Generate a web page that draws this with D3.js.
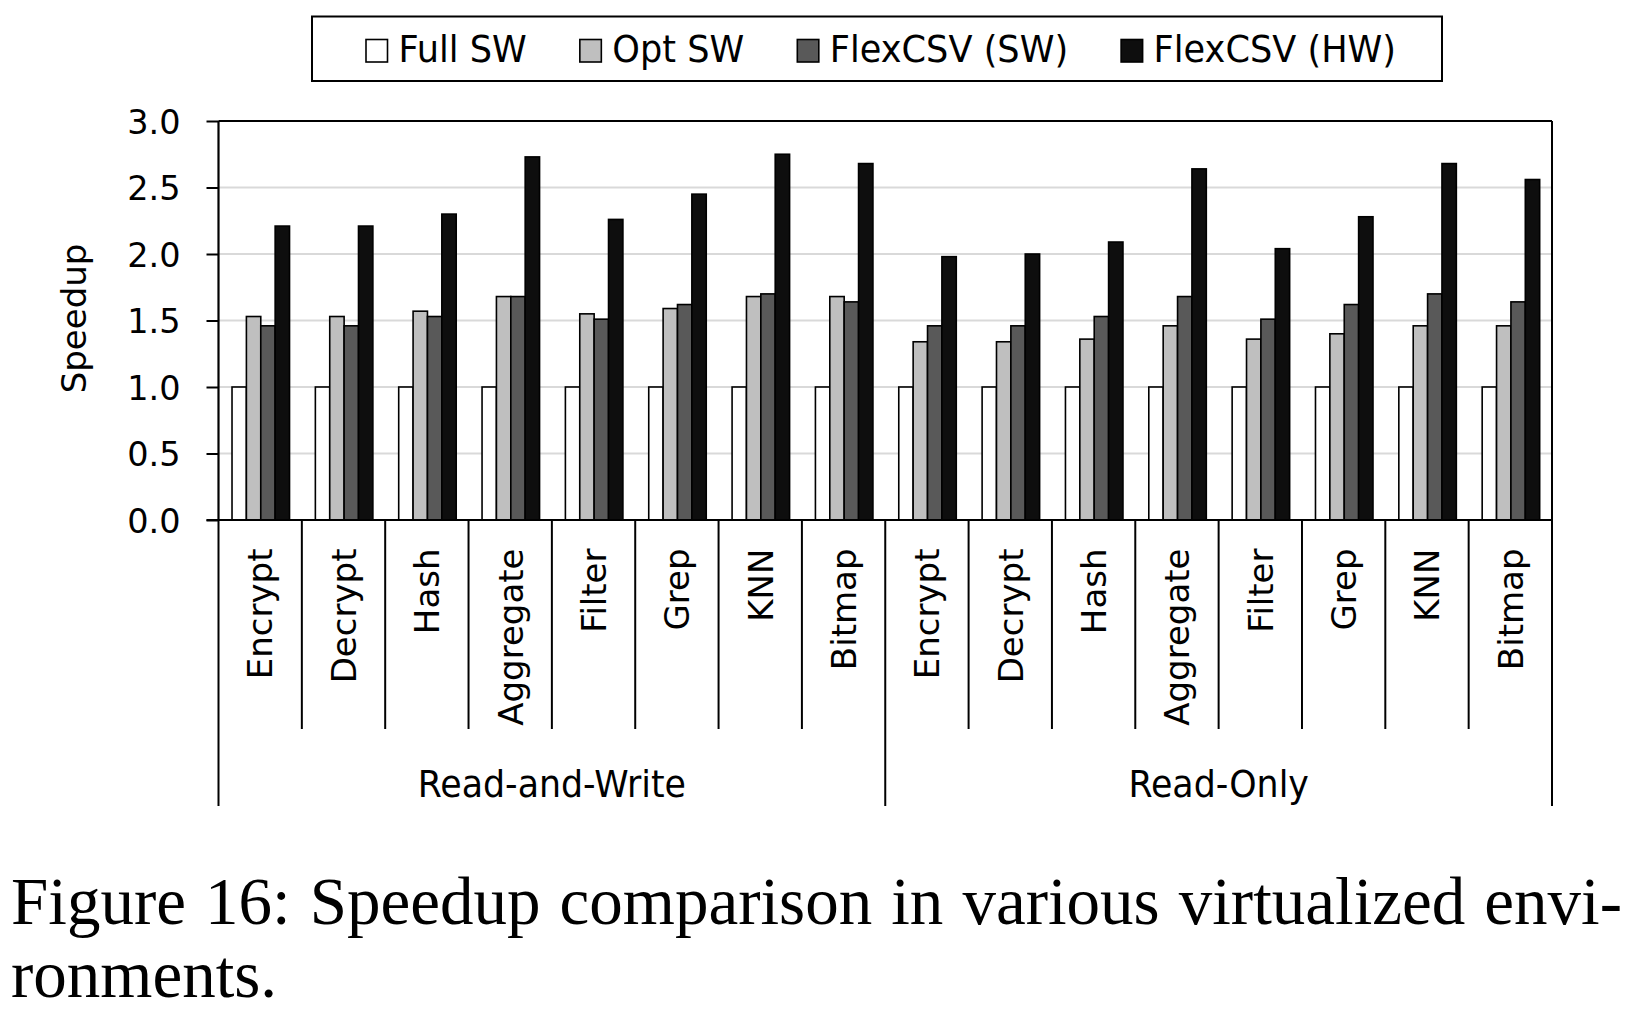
<!DOCTYPE html>
<html>
<head>
<meta charset="utf-8">
<script src="https://cdn.jsdelivr.net/npm/d3@7"></script>
<style>
  html, body { margin: 0; padding: 0; background: #ffffff; }
  svg { display: block; }
  text { fill: #000; }
</style>
</head>
<body>
<svg id="chart" width="1629" height="1015"></svg>
<script>
// ---------- DATA ----------
const categories = ["Encrypt", "Decrypt", "Hash", "Aggregate", "Filter", "Grep", "KNN", "Bitmap"];
const groups = ["Read-and-Write", "Read-Only"];
const seriesNames = ["Full SW", "Opt SW", "FlexCSV (SW)", "FlexCSV (HW)"];
const fullSW = [1.00, 1.00, 1.00, 1.00, 1.00, 1.00, 1.00, 1.00,
                1.00, 1.00, 1.00, 1.00, 1.00, 1.00, 1.00, 1.00];
const optSW  = [1.53, 1.53, 1.57, 1.68, 1.55, 1.59, 1.68, 1.68,
                1.34, 1.34, 1.36, 1.46, 1.36, 1.40, 1.46, 1.46];
const flexSW = [1.46, 1.46, 1.53, 1.68, 1.51, 1.62, 1.70, 1.64,
                1.46, 1.46, 1.53, 1.68, 1.51, 1.62, 1.70, 1.64];
const flexHW = [2.21, 2.21, 2.30, 2.73, 2.26, 2.45, 2.75, 2.68,
                1.98, 2.00, 2.09, 2.64, 2.04, 2.28, 2.68, 2.56];
const yTicks = [0.0, 0.5, 1.0, 1.5, 2.0, 2.5, 3.0];
const yLabel = "Speedup";
const captionLines = ["Figure 16: Speedup comparison in various virtualized envi-", "ronments."];

// ---------- BUILD TABLE ----------
const seriesValues = [fullSW, optSW, flexSW, flexHW];
const seriesColors = ["#ffffff", "#bfbfbf", "#595959", "#0e0e0e"];
const rows = [];
groups.forEach((g, gi) => categories.forEach((c, ci) => rows.push({ key: g + "|" + c, group: g, cat: c, idx: gi * categories.length + ci })));

// ---------- LAYOUT ----------
const svg = d3.select("#chart");
const plot = { left: 218.5, right: 1552, top: 121, bottom: 520 };
const SANS = "'DejaVu Sans', Verdana, sans-serif";
const SERIF = "'Liberation Serif', 'Times New Roman', serif";

const x0 = d3.scaleBand().domain(rows.map(r => r.key)).range([plot.left, plot.right]).paddingInner(0).paddingOuter(0);
const bw = x0.bandwidth();
const x1 = d3.scaleBand().domain(seriesNames).range([bw * 0.155 + 0.6, bw * 0.845 + 0.6]).padding(0);
const y = d3.scaleLinear().domain([0, 3]).range([plot.bottom, plot.top]);

// gridlines
svg.append("g")
  .selectAll("line").data(yTicks.filter(t => t > 0 && t < 3)).join("line")
  .attr("x1", plot.left).attr("x2", plot.right)
  .attr("y1", d => y(d)).attr("y2", d => y(d))
  .attr("stroke", "#d9d9d9").attr("stroke-width", 2);

// bars
const gBars = svg.append("g");
rows.forEach(r => {
  const g = gBars.append("g").attr("transform", `translate(${x0(r.key)},0)`);
  g.selectAll("rect").data(seriesNames.map((s, si) => ({ s, si, v: seriesValues[si][r.idx] }))).join("rect")
    .attr("x", d => x1(d.s))
    .attr("width", x1.bandwidth())
    .attr("y", d => y(d.v))
    .attr("height", d => y(0) - y(d.v))
    .attr("fill", d => seriesColors[d.si])
    .attr("stroke", "#000").attr("stroke-width", 1.6);
});

// plot frame: top and right border
svg.append("line").attr("x1", plot.left).attr("x2", plot.right).attr("y1", plot.top).attr("y2", plot.top)
  .attr("stroke", "#000").attr("stroke-width", 2);
svg.append("line").attr("x1", plot.right).attr("x2", plot.right).attr("y1", plot.top).attr("y2", plot.bottom)
  .attr("stroke", "#000").attr("stroke-width", 2);

// y axis
const yAxis = d3.axisLeft(y).tickValues(yTicks).tickFormat(d3.format(".1f")).tickSize(12).tickPadding(26);
const gy = svg.append("g").attr("transform", `translate(${plot.left},0)`).call(yAxis);
gy.select(".domain").attr("stroke", "#000").attr("stroke-width", 2.2).attr("d", `M0,${plot.top}V${plot.bottom}`);
gy.selectAll(".tick line").attr("stroke", "#000").attr("stroke-width", 2);
gy.selectAll(".tick text").attr("font-family", SANS).attr("font-size", 33.5).attr("fill", "#000").attr("dy", "0.36em");

// x axis line
svg.append("line").attr("x1", plot.left - 12).attr("x2", plot.right).attr("y1", plot.bottom).attr("y2", plot.bottom)
  .attr("stroke", "#000").attr("stroke-width", 2.2);

// category separators
const nCats = rows.length;
const bounds = d3.range(nCats + 1).map(i => i === nCats ? plot.right : x0(rows[i].key));
svg.append("g").selectAll("line").data(bounds).join("line")
  .attr("x1", d => d).attr("x2", d => d)
  .attr("y1", plot.bottom)
  .attr("y2", (d, i) => (i % categories.length === 0) ? 806 : 729)
  .attr("stroke", "#000").attr("stroke-width", 2);

// category labels (rotated)
svg.append("g").selectAll("text").data(rows).join("text")
  .attr("transform", d => `translate(${x0(d.key) + bw / 2 + 12.3},548.5) rotate(-90)`)
  .attr("text-anchor", "end")
  .attr("font-family", SANS).attr("font-size", 34)
  .text(d => d.cat);

// group labels
svg.append("g").selectAll("text").data(groups).join("text")
  .attr("transform", (g, gi) => {
    const a = bounds[gi * categories.length], b = bounds[(gi + 1) * categories.length];
    return `translate(${(a + b) / 2},796.5) scale(0.94,1)`;
  })
  .attr("text-anchor", "middle")
  .attr("font-family", SANS).attr("font-size", 37)
  .text(d => d);

// y label
svg.append("text")
  .attr("transform", `translate(85.5,${(plot.top + plot.bottom) / 2 - 2}) rotate(-90)`)
  .attr("text-anchor", "middle")
  .attr("font-family", SANS).attr("font-size", 34)
  .text(yLabel);

// legend
const legend = svg.append("g");
legend.append("rect").attr("x", 312).attr("y", 16.5).attr("width", 1130).attr("height", 64.5)
  .attr("fill", "#fff").attr("stroke", "#000").attr("stroke-width", 2);
let lx = 366;
seriesNames.forEach((s, si) => {
  legend.append("rect").attr("x", lx).attr("y", 39.5).attr("width", 21.5).attr("height", 22.5)
    .attr("fill", seriesColors[si]).attr("stroke", "#000").attr("stroke-width", 1.6);
  const t = legend.append("text")
    .attr("transform", `translate(${lx + 32.5},62.3) scale(0.95,1)`)
    .attr("font-family", SANS).attr("font-size", 37)
    .text(s);
  const w = t.node().getComputedTextLength() * 0.95;
  lx = lx + 32.5 + w + 53;
});

// caption
const cap = svg.append("g");
captionLines.forEach((line, li) => {
  const t = cap.append("text")
    .attr("x", 11).attr("y", 923.5 + li * 73.2)
    .attr("font-family", SERIF).attr("font-size", 67)
    .text(line);
  if (li === 0) {
    const target = 1622 - 11;
    const w = t.node().getComputedTextLength();
    const nSpaces = (line.match(/ /g) || []).length;
    if (nSpaces > 0) t.attr("word-spacing", (target - w) / nSpaces);
  }
});
</script>
</body>
</html>
